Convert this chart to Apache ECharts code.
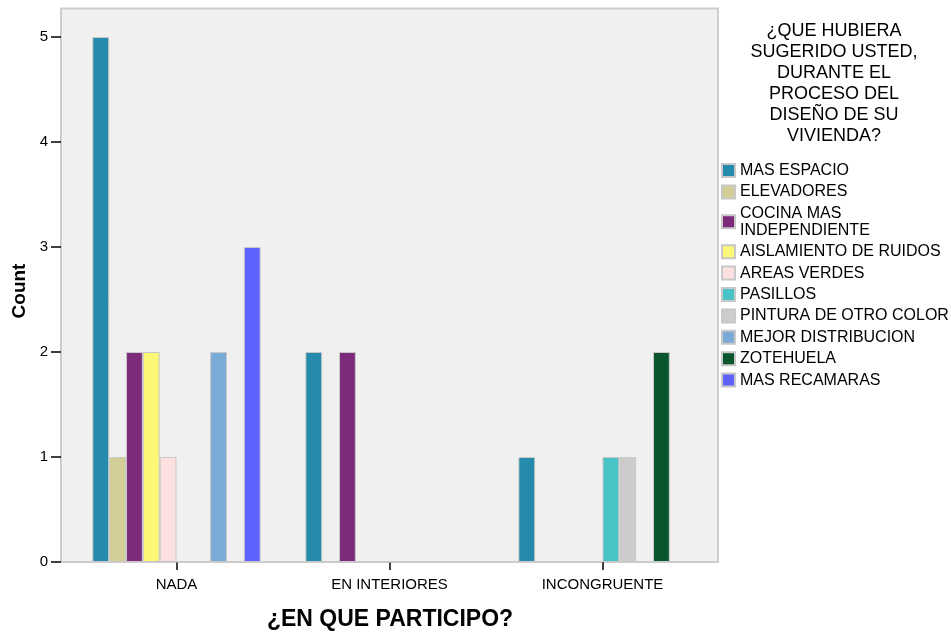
<!DOCTYPE html>
<html>
<head>
<meta charset="utf-8">
<script src="https://cdn.jsdelivr.net/npm/echarts@6/dist/echarts.min.js"></script>
<style>html,body{margin:0;padding:0;background:#fff}#c{width:951px;height:632px}</style>
</head>
<body>
<div id="c"></div>
<script>
const categories = ['NADA', 'EN INTERIORES', 'INCONGRUENTE'];
const seriesNames = ['MAS ESPACIO', 'ELEVADORES', 'COCINA MAS\nINDEPENDIENTE', 'AISLAMIENTO DE RUIDOS', 'AREAS VERDES', 'PASILLOS', 'PINTURA DE OTRO COLOR', 'MEJOR DISTRIBUCION', 'ZOTEHUELA', 'MAS RECAMARAS'];
const seriesColors = ['#248BAC', '#D3CE97', '#7D2A7A', '#FBF777', '#FCE0E0', '#48C3C6', '#CCCCCC', '#7AAAD6', '#0B572D', '#6062FF'];
const masEspacio = [5, 2, 1];
const elevadores = [1, 0, 0];
const cocina = [2, 2, 0];
const aislamiento = [2, 0, 0];
const areasVerdes = [1, 0, 0];
const pasillos = [0, 0, 1];
const pintura = [0, 0, 1];
const mejorDistribucion = [2, 0, 0];
const zotehuela = [0, 0, 2];
const masRecamaras = [3, 0, 0];
const yTicks = [0, 1, 2, 3, 4, 5];
const legendTitle = '¿QUE HUBIERA\nSUGERIDO USTED,\nDURANTE EL\nPROCESO DEL\nDISEÑO DE SU\nVIVIENDA?';
const xTitle = '¿EN QUE PARTICIPO?';
const yTitle = 'Count';

const values = [masEspacio, elevadores, cocina, aislamiento, areasVerdes, pasillos, pintura, mejorDistribucion, zotehuela, masRecamaras];
const font = '"Liberation Sans", Arial, sans-serif';

const chart = echarts.init(document.getElementById('c'), null, {renderer: 'canvas'});
chart.setOption({
  animation: false,
  backgroundColor: '#ffffff',
  textStyle: {fontFamily: font},
  graphic: [
    {type: 'rect', z: -10, shape: {x: 61, y: 8.5, width: 657, height: 553.5}, style: {fill: '#F0F0F0', stroke: '#CDCDCD', lineWidth: 2}},
    {type: 'text', x: 834, y: 21, style: {x: 0, y: 0, text: legendTitle, textAlign: 'center', fontSize: 18, lineHeight: 21, fill: '#000', fontFamily: font}},
    {type: 'text', x: 390, y: 620, style: {x: 0, y: 0, text: xTitle, textAlign: 'center', textVerticalAlign: 'middle', fontSize: 23, fontWeight: 'bold', fill: '#000', fontFamily: font}},
    {type: 'text', x: 20, y: 291, rotation: Math.PI / 2, style: {x: 0, y: 0, text: yTitle, textAlign: 'center', textVerticalAlign: 'middle', fontSize: 19, fontWeight: 'bold', fill: '#000', fontFamily: font}}
  ],
  legend: {
    orient: 'vertical',
    left: 721,
    top: 162,
    padding: 0,
    itemWidth: 13,
    itemHeight: 13,
    itemGap: 4.4,
    icon: 'rect',
    textStyle: {fontSize: 16, lineHeight: 17, color: '#000', fontFamily: font, padding: [0, 0, 0, 0]},
    data: seriesNames
  },
  grid: {left: 70, right: 242, top: 37, bottom: 70, containLabel: false},
  xAxis: {
    type: 'category',
    data: categories,
    axisLine: {show: true, lineStyle: {color: '#CDCDCD', width: 2}},
    axisTick: {show: true, alignWithLabel: true, length: 8, lineStyle: {color: '#000', width: 1.5}},
    axisLabel: {fontSize: 15, color: '#000', margin: 15, interval: 0}
  },
  yAxis: {
    type: 'value',
    min: 0,
    max: 5,
    interval: 1,
    offset: 9,
    splitLine: {show: false},
    axisLine: {show: false},
    axisTick: {show: true, length: 10, lineStyle: {color: '#000', width: 1.5}},
    axisLabel: {fontSize: 15, color: '#000', margin: 13, formatter: v => yTicks.includes(v) ? String(v) : ''}
  },
  series: seriesNames.map((name, i) => ({
    name: name,
    type: 'bar',
    data: values[i],
    barGap: '0%',
    barCategoryGap: '21%',
    itemStyle: {color: seriesColors[i], borderColor: '#C8C8C8', borderWidth: 1}
  }))
});
</script>
</body>
</html>
